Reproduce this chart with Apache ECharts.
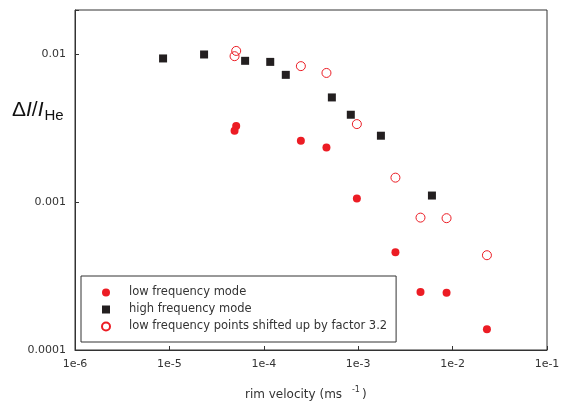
<!DOCTYPE html>
<html><head><meta charset="utf-8">
<script src="https://cdn.jsdelivr.net/npm/echarts@6/dist/echarts.min.js"></script>
<style>html,body{margin:0;padding:0;background:#fff}#c{width:563px;height:405px}</style>
</head><body><div id="c"></div>
<script>
// Data
var lowX  = [5.1e-5, 4.9e-5, 2.47e-4, 4.61e-4, 9.68e-4, 2.48e-3, 4.57e-3, 8.63e-3, 2.31e-2];
var lowY  = [0.00328, 0.00305, 0.00261, 0.00235, 0.001058, 4.59e-4, 2.47e-4, 2.44e-4, 1.38e-4];
var highX = [8.57e-6, 2.33e-5, 6.34e-5, 1.17e-4, 1.71e-4, 5.26e-4, 8.35e-4, 1.74e-3, 6.04e-3];
var highY = [0.0094, 0.0100, 0.00906, 0.00891, 0.00728, 0.00512, 0.00391, 0.00282, 0.00111];
var shiftX = [5.1e-5, 4.9e-5, 2.47e-4, 4.61e-4, 9.68e-4, 2.48e-3, 4.57e-3, 8.63e-3, 2.31e-2];
var shiftY = [0.01057, 0.00974, 0.00834, 0.0075, 0.00338, 0.001467, 7.87e-4, 7.80e-4, 4.38e-4];
var xTickLabels = {"-6":"1e-6","-5":"1e-5","-4":"1e-4","-3":"1e-3","-2":"1e-2","-1":"1e-1"};
var yTickLabels = {"-4":"0.0001","-3":"0.001","-2":"0.01"};
var seriesNames = ["low frequency mode","high frequency mode","low frequency points shifted up by factor 3.2"];

function zip(a,b){return a.map(function(v,i){return [v,b[i]];});}
var RED = '#ec1c24', BLK = '#231f20', TXT = '#333';
var FONT = 'DejaVu Sans, sans-serif';
var FONT2 = 'Liberation Sans, Arial, sans-serif';

var chart = echarts.init(document.getElementById('c'), null, {renderer:'canvas'});
chart.setOption({
  animation:false,
  backgroundColor:'#fff',
  grid:{left:75, right:16, top:10, bottom:55, show:true, borderColor:'#333', borderWidth:1},
  xAxis:{type:'log', logBase:10, min:1e-6, max:1e-1,
    axisLine:{lineStyle:{color:'#333', width:1}},
    axisTick:{inside:true, length:4, lineStyle:{color:'#333'}},
    splitLine:{show:false}, minorTick:{show:false},
    axisLabel:{color:TXT, fontFamily:FONT, fontSize:11, margin:9,
      formatter:function(v){var e=Math.round(Math.log10(v)); return Math.abs(Math.log10(v)-e)<1e-6 ? (xTickLabels[e]||'') : '';}}
  },
  yAxis:{type:'log', logBase:10, min:1e-4, max:0.02,
    axisLine:{lineStyle:{color:'#333', width:1}},
    axisTick:{inside:true, length:4, lineStyle:{color:'#333'}},
    splitLine:{show:false},
    axisLabel:{color:TXT, fontFamily:FONT, fontSize:11, margin:9,
      formatter:function(v){var e=Math.round(Math.log10(v)); return Math.abs(Math.log10(v)-e)<1e-6 ? (yTickLabels[e]||'') : '';}}
  },
  legend:{orient:'vertical', left:81, top:276, width:330,
    padding:[10,9,9,20], itemGap:4, itemWidth:8, itemHeight:8,
    borderColor:'#333', borderWidth:1, borderRadius:0,
    textStyle:{color:TXT, fontFamily:FONT, fontSize:11.5, padding:[0,0,0,14], lineHeight:13},
    data:[
      {name:seriesNames[0], icon:'circle'},
      {name:seriesNames[1], icon:'rect'},
      {name:seriesNames[2], icon:'circle'}
    ]},
  series:[
    {name:seriesNames[0], type:'scatter', symbol:'circle', symbolSize:8,
      itemStyle:{color:RED, opacity:1}, data:zip(lowX,lowY), z:3},
    {name:seriesNames[1], type:'scatter', symbol:'rect', symbolSize:8,
      itemStyle:{color:BLK, opacity:1}, data:zip(highX,highY), z:2},
    {name:seriesNames[2], type:'scatter', symbol:'circle', symbolSize:9,
      itemStyle:{color:'rgba(255,255,255,0)', borderColor:RED, borderWidth:1, opacity:1}, data:zip(shiftX,shiftY), z:4}
  ],
  graphic:[
    {type:'text', left:12, top:100, style:{
      text:'{a|Δ}{b|I}{a|/}{b|I}{c|He}', rich:{
        a:{fontFamily:FONT2, fontSize:21, fill:'#111'},
        b:{fontFamily:FONT2, fontSize:21, fontStyle:'italic', fill:'#111'},
        c:{fontFamily:FONT2, fontSize:15, fill:'#111', padding:[10,0,0,1]}
      }}},
    {type:'text', left:245, top:386, style:{
      text:'{a|rim velocity (ms }{b|-1}{a|)}', rich:{
        a:{fontFamily:FONT, fontSize:12, fill:TXT},
        b:{fontFamily:FONT, fontSize:8, fill:TXT, padding:[0,2,9,6]}
      }}}
  ]
});
</script></body></html>
